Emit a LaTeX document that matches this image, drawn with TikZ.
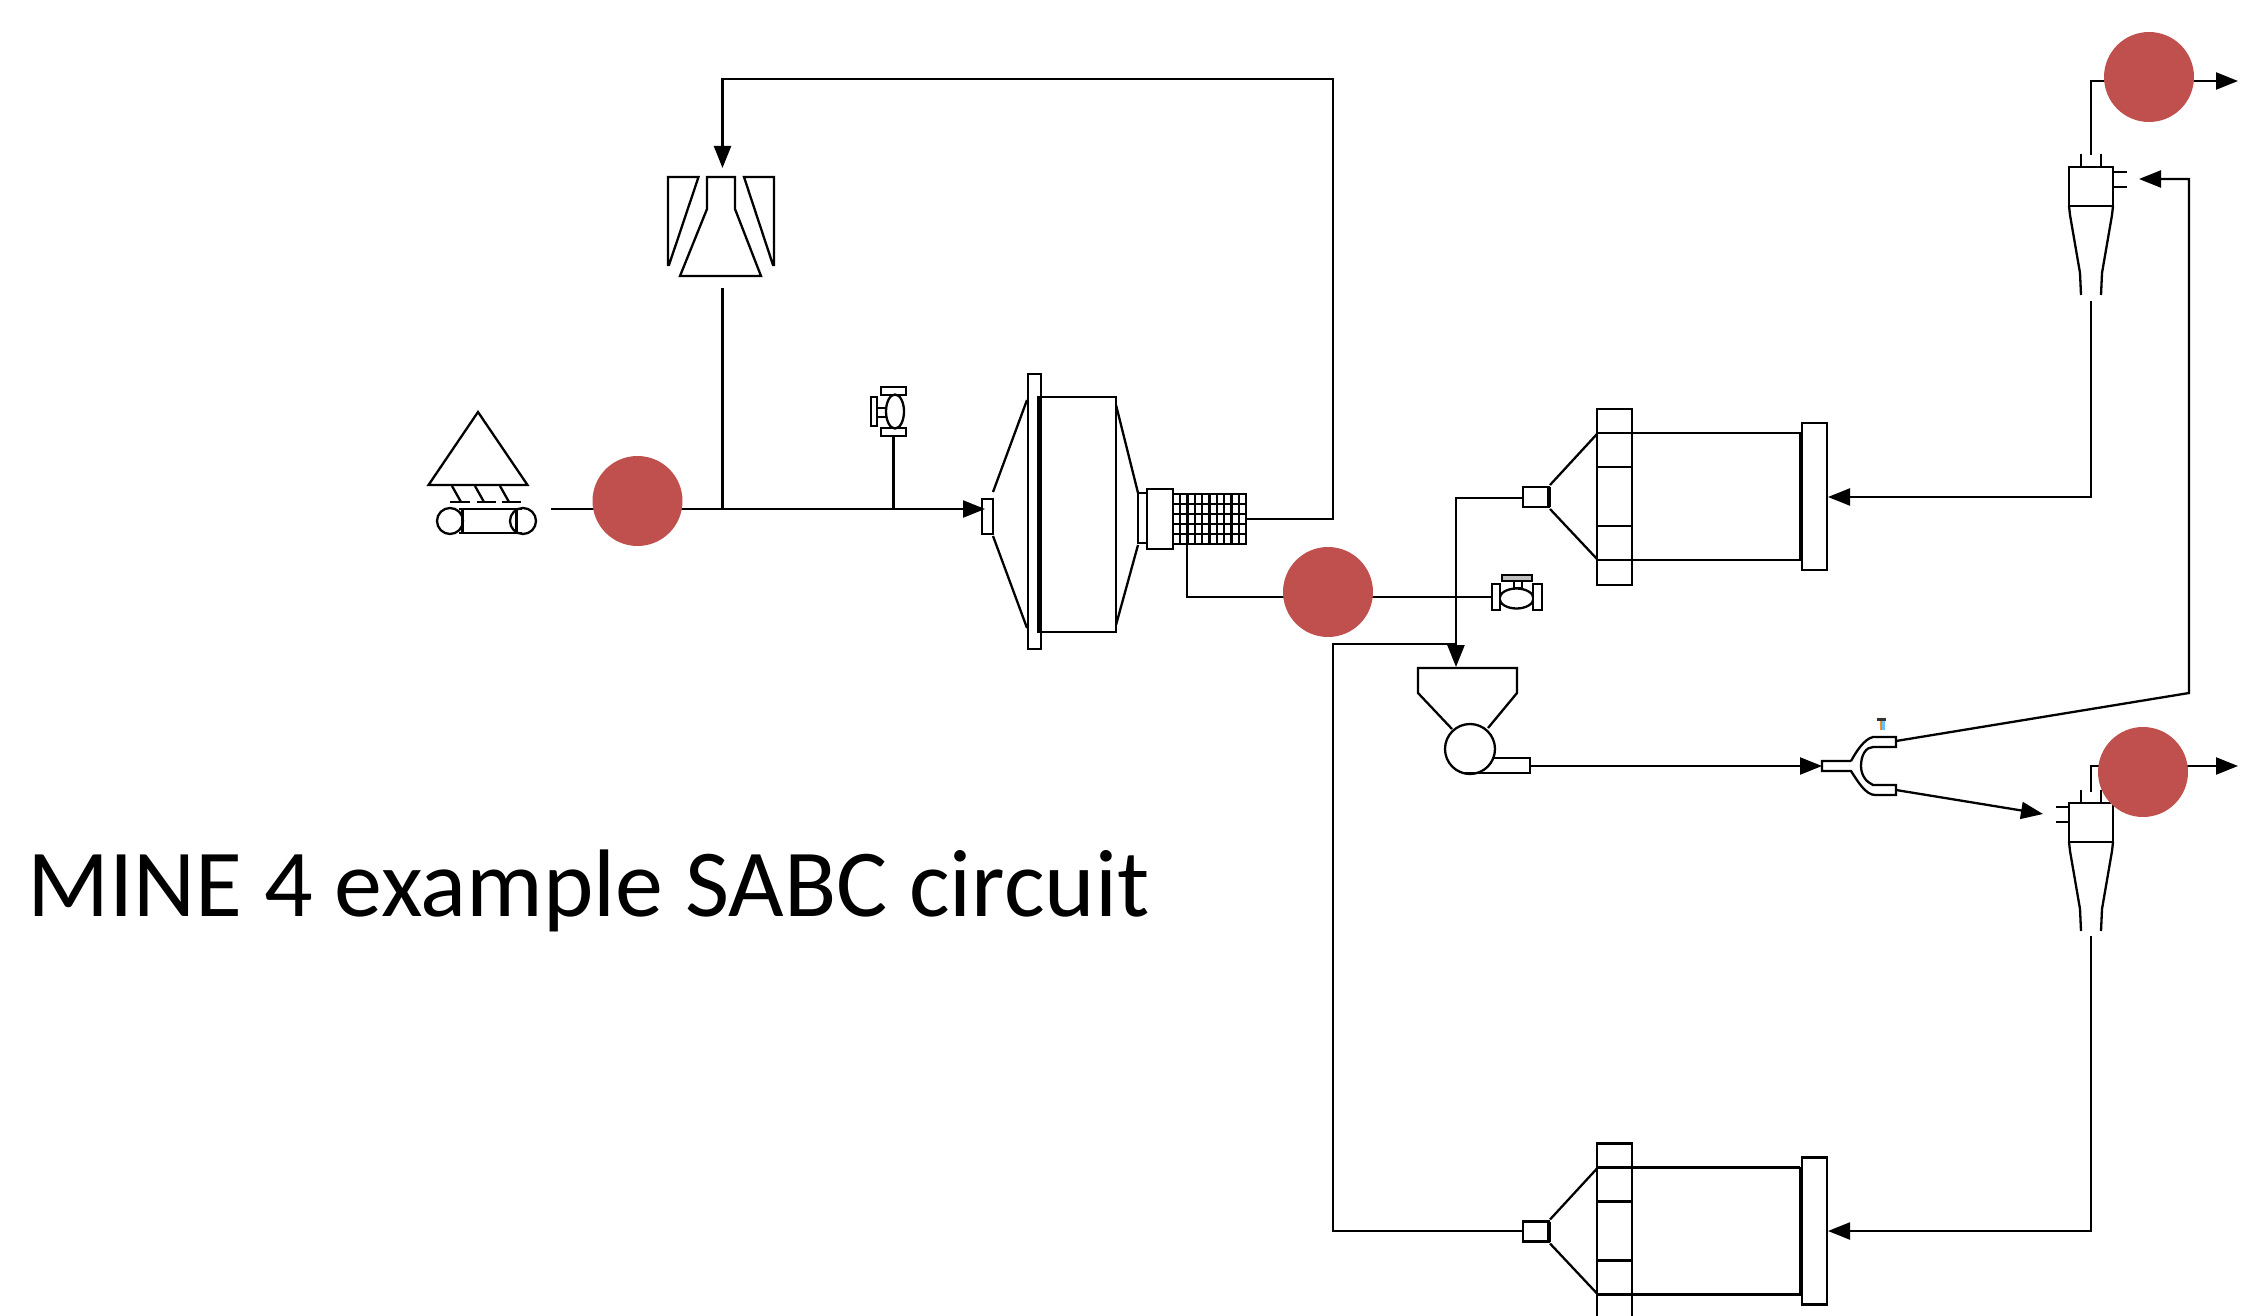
\documentclass[tikz,border=0pt]{standalone}
\usepackage{fontspec}
\setmainfont{Carlito}
\usetikzlibrary{arrows.meta}
\definecolor{dotred}{HTML}{C0504D}
\tikzset{
  px/.style={x=0.5pt,y=-0.5pt},
  ln/.style={line width=1.15pt,line join=miter,black},
  flow/.style={ln,-{Triangle[length=11pt,width=8.5pt]}},
  unit/.style={ln,fill=white},
  narrow/.style={ln,fill=black!25},
  thick bar/.style={line width=2pt,black},
  dot/.style={circle,fill=dotred,draw=none,minimum size=45pt,inner sep=0pt},
}
\begin{document}
\begin{tikzpicture}[px]
\useasboundingbox (0,0) rectangle (2244,1316);
\fill[white] (0,0) rectangle (2244,1316);
% ports
\coordinate (convOut) at (551,509);
\coordinate (jCrush) at (722.5,509);
\coordinate (crushOut) at (722.5,288);
\coordinate (jValve) at (893.5,509);
\coordinate (valveA) at (893.5,436);
\coordinate (millIn) at (985,509);
\coordinate (crushIn) at (722.5,168);
\coordinate (ovTop) at (1333,79);
\coordinate (crushTop) at (722.5,79);
\coordinate (ovBot) at (1333,519);
\coordinate (scrOver) at (1246,519);
\coordinate (scrUnder) at (1187,544);
\coordinate (unCorner) at (1187,597);
\coordinate (valveB) at (1492,597);
\coordinate (hopIn) at (1456,667);
\coordinate (hopC) at (1456,644);
\coordinate (sagTop) at (1456,498);
\coordinate (sagOut) at (1523,498);
\coordinate (retTop) at (1333,644);
\coordinate (retBot) at (1333,1231);
\coordinate (ballOutB) at (1523,1231);
\coordinate (pumpOut) at (1530,766);
\coordinate (splitIn) at (1822,766);
\coordinate (splitUp) at (1896,741);
\coordinate (splitLo) at (1896,790);
\coordinate (splitBend) at (2189,693);
\coordinate (cyTopCorner) at (2189,179);
\coordinate (cyAin) at (2139,179);
\coordinate (cyBin) at (2043,814);
\coordinate (cyAunder) at (2091,301);
\coordinate (cyAbend) at (2091,497);
\coordinate (ballAin) at (1828,497);
\coordinate (cyBunder) at (2091,936);
\coordinate (cyBbend) at (2091,1231);
\coordinate (ballBin) at (1828,1231);
\coordinate (cyAover) at (2091,155);
\coordinate (cyAc) at (2091,81);
\coordinate (outA) at (2238,81);
\coordinate (cyBover) at (2091,792);
\coordinate (cyBc) at (2091,766);
\coordinate (outB) at (2238,766);
% connectors
\draw[flow] (convOut) -- (millIn);
\draw[ln] (crushOut) -- (jCrush);
\draw[ln] (valveA) -- (jValve);
\draw[flow] (scrOver) -- (ovBot) -- (ovTop) -- (crushTop) -- (crushIn);
\draw[ln] (scrUnder) -- (unCorner) -- (valveB);
\draw[flow] (sagOut) -- (sagTop) -- (hopIn);
\draw[ln] (ballOutB) -- (retBot) -- (retTop) -- (hopC);
\draw[flow] (pumpOut) -- (splitIn);
\draw[flow] (splitUp) -- (splitBend) -- (cyTopCorner) -- (cyAin);
\draw[flow] (splitLo) -- (cyBin);
\draw[flow] (cyAunder) -- (cyAbend) -- (ballAin);
\draw[flow] (cyBunder) -- (cyBbend) -- (ballBin);
\draw[flow] (cyAover) -- (cyAc) -- (outA);
\draw[flow] (cyBover) -- (cyBc) -- (outB);
% stockpile and conveyor
\draw[ln] (478,412) -- (527.5,485) -- (428.5,485) -- cycle;
\foreach \a/\b/\c/\d in {452/461/450/470,475/484/477/496,500/509/502/521}{
  \draw[ln] (\a,486) -- (\b,502);
  \draw[ln] (\c,502) -- (\d,502);
}
\draw[ln] (450,521) circle[radius=13];
\draw[ln] (523,521) circle[radius=13];
\draw[ln] (459,509) -- (522,509);
\draw[ln] (459,533) -- (522,533);
\draw[line width=1.5pt] (462,510) -- (462,532);
\draw[line width=1.5pt] (516,510) -- (516,532);
% secondary crusher
\draw[ln] (668,265) -- (668,177) -- (698.5,177) -- (669,265) -- cycle;
\draw[ln] (707,177) -- (735,177) -- (735,209) -- (761,276) -- (680,276) -- (707,209) -- cycle;
\draw[ln] (744,177) -- (774,177) -- (774,265) -- (773,265) -- cycle;
% valve 1
\draw[unit] (881,387) rectangle (906,395);
\draw[unit] (881,428) rectangle (906,436);
\draw[ln] (895,411.5) ellipse[x radius=9,y radius=17];
\draw[unit] (871,397) rectangle (877,426);
\draw[ln] (877,408) rectangle (886,417);
% SAG mill
\draw[ln] (982,499) rectangle (993,534);
\draw[ln] (993,492) -- (1027,400);
\draw[ln] (993,536) -- (1027,628);
\draw[ln] (1028,374) rectangle (1041,649);
\draw[ln] (1039,397) rectangle (1116,632);
\draw[thick bar] (1039,396) -- (1039,633);
\draw[ln] (1116,405) -- (1138,493);
\draw[ln] (1116,625) -- (1138,545);
\draw[ln] (1138,493) rectangle (1147,543);
\draw[ln] (1147,489) rectangle (1173,549);
\draw[ln] (1173,494) rectangle (1246,544);
\foreach \i in {1,...,9}{\draw[ln] ({1173+\i*7.3},494) -- ({1173+\i*7.3},544);}
\foreach \i in {1,...,4}{\draw[ln] (1173,{494+\i*10}) -- (1246,{494+\i*10});}
% valve 2
\draw[narrow] (1502,575) rectangle (1532,581);
\draw[ln] (1514,581) rectangle (1522,588);
\draw[ln] (1516.5,598.5) ellipse[x radius=17,y radius=10];
\draw[unit] (1492,584) rectangle (1500,610);
\draw[unit] (1533,584) rectangle (1542,610);
% hopper and pump
\draw[ln] (1452,729) -- (1418,693) -- (1418,668) -- (1517,668) -- (1517,693) -- (1488,728);
\draw[unit] (1465,773) -- (1530,773) -- (1530,758) -- (1492,758);
\draw[ln] (1470,749) circle[radius=25];
% ball mills
\foreach \dy/\pb in {0/585,734.5/1340}{
\begin{scope}[yshift={-0.5pt*\dy}]
  \draw[ln] (1523,487) rectangle (1549,507);
  \draw[thick bar] (1549,487) -- (1549,507);
  \draw[ln] (1550,485) -- (1597,434);
  \draw[ln] (1550,509) -- (1597,559);
  \draw[ln] (1597,409) rectangle (1632,\pb-\dy);
  \draw[ln] (1597,433) -- (1800,433);
  \draw[ln] (1597,560) -- (1800,560);
  \draw[ln] (1597,467) -- (1632,467);
  \draw[ln] (1597,526) -- (1632,526);
  \draw[unit] (1802,423) rectangle (1827,570);
  \draw[thick bar] (1801,432) -- (1801,561);
\end{scope}
}
% splitter
\draw[ln] (1851,761) -- (1822,761) -- (1822,771) -- (1851,771)
  .. controls (1858,782) and (1866,795) .. (1875,795) -- (1896,795) -- (1896,785) -- (1873,785)
  .. controls (1866,782) and (1861,775) .. (1861,766)
  .. controls (1861,755) and (1866,747) .. (1873,747) -- (1896,747) -- (1896,737) -- (1873,737)
  .. controls (1864,739) and (1856,752) .. (1851,761);
\node[inner sep=0pt,text=orange!85!brown,font=\bfseries\fontsize{9.3pt}{9.3pt}\selectfont] (tag) at (1881.5,724) {T};
\fill[blue!40!cyan!60] (1882,721) rectangle (1885,730);
\fill[black!80] (1877,718) rectangle (1886,720.5);
% cyclones
\foreach \dy in {0,636}{
\begin{scope}[yshift={-0.5pt*\dy}]
  \draw[ln] (2069,167) rectangle (2113,206);
  \draw[ln] (2081,154) -- (2081,167);
  \draw[ln] (2101,154) -- (2101,167);
  \draw[ln] (2069,206) -- (2070,215) -- (2080,273) -- (2081,295);
  \draw[ln] (2113,206) -- (2112,215) -- (2102,273) -- (2101,295);
\end{scope}
}
\draw[ln] (2113,172) -- (2127,172);
\draw[ln] (2113,187) -- (2127,187);
\draw[ln] (2056,807) -- (2069,807);
\draw[ln] (2056,822) -- (2069,822);
% markers
\node[dot] (dotA) at (637.5,501) {};
\node[dot] (dotB) at (1328,592) {};
\node[dot] (dotC) at (2149,77) {};
\node[dot] (dotD) at (2143,772) {};
% caption
\node[anchor=base west,inner sep=0pt,font=\fontsize{48pt}{48pt}\selectfont] (caption) at (27,916) {MINE 4 example SABC circuit};
\end{tikzpicture}
\end{document}
